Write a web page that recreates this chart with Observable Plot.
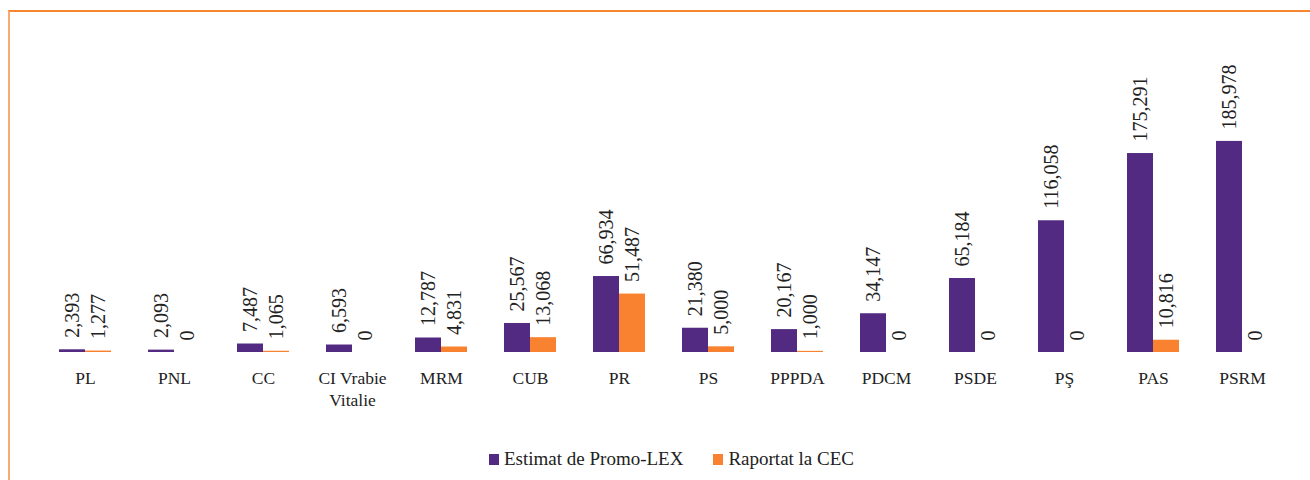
<!DOCTYPE html>
<html>
<head>
<meta charset="utf-8">
<script src="https://cdn.jsdelivr.net/npm/d3@7"></script>
<script src="https://cdn.jsdelivr.net/npm/@observablehq/plot@0.6"></script>
<style>
  html, body { margin: 0; padding: 0; background: #fff; }
  #wrap { position: relative; width: 1310px; height: 480px; overflow: hidden; font-family: "Liberation Serif", serif; }
  #frame { position: absolute; left: 8px; top: 10px; width: 1400px; height: 600px; border-top: 2px solid #f7862f; border-left: 2px solid #f9aa72; box-sizing: border-box; }
  #chart { position: absolute; left: 0; top: 0; }
  #legend { position: absolute; top: 448px; left: 489px; display: flex; align-items: center; font-size: 19px; color: #222; white-space: nowrap; }
  .sw { display: inline-block; width: 10px; height: 11px; margin-right: 5px; }
  .item { display: flex; align-items: center; margin-right: 30px; }
</style>
</head>
<body>
<div id="wrap">
  <div id="frame"></div>
  <div id="chart"></div>
  <div id="legend"></div>
</div>
<script>
const parties = ["PL", "PNL", "CC", "CI Vrabie\nVitalie", "MRM", "CUB", "PR", "PS", "PPPDA", "PDCM", "PSDE", "PŞ", "PAS", "PSRM"];
const estimat = [2393, 2093, 7487, 6593, 12787, 25567, 66934, 21380, 20167, 34147, 65184, 116058, 175291, 185978];
const raportat = [1277, 0, 1065, 0, 4831, 13068, 51487, 5000, 1000, 0, 0, 0, 10816, 0];
const seriesNames = ["Estimat de Promo-LEX", "Raportat la CEC"];
const seriesColors = ["#522a82", "#f8822f"];

const data = [];
parties.forEach((p, i) => {
  data.push({party: p, series: seriesNames[0], value: estimat[i]});
  data.push({party: p, series: seriesNames[1], value: raportat[i]});
});

const fmt = d3.format(",");

const chart = Plot.plot({
  width: 1310,
  height: 440,
  marginLeft: 38,
  marginRight: 22,
  marginTop: 125,
  marginBottom: 88,
  style: {fontFamily: "Liberation Serif, serif", background: "transparent", color: "#222"},
  fx: {domain: parties, paddingInner: 0.42, paddingOuter: 0.21, label: null},
  x: {domain: seriesNames, padding: 0, axis: null},
  y: {domain: [0, 200000], axis: null},
  color: {domain: seriesNames, range: seriesColors},
  marks: [
    Plot.axisFx({tickSize: 0, tickPadding: 16, fontSize: 17.5, label: null, lineHeight: 1.25, anchor: "bottom"}),
    Plot.barY(data, {fx: "party", x: "series", y: "value", fill: "series"}),
    Plot.text(data, {fx: "party", x: "series", y: "value", text: d => fmt(d.value), rotate: -90, textAnchor: "start", dy: -12, fontSize: 20, fill: "#222"})
  ]
});
document.getElementById("chart").appendChild(chart);

const legend = document.getElementById("legend");
seriesNames.forEach((s, i) => {
  const item = document.createElement("div");
  item.className = "item";
  const sw = document.createElement("span");
  sw.className = "sw";
  sw.style.background = seriesColors[i];
  const t = document.createElement("span");
  t.textContent = s;
  item.appendChild(sw);
  item.appendChild(t);
  legend.appendChild(item);
});
</script>
</body>
</html>
